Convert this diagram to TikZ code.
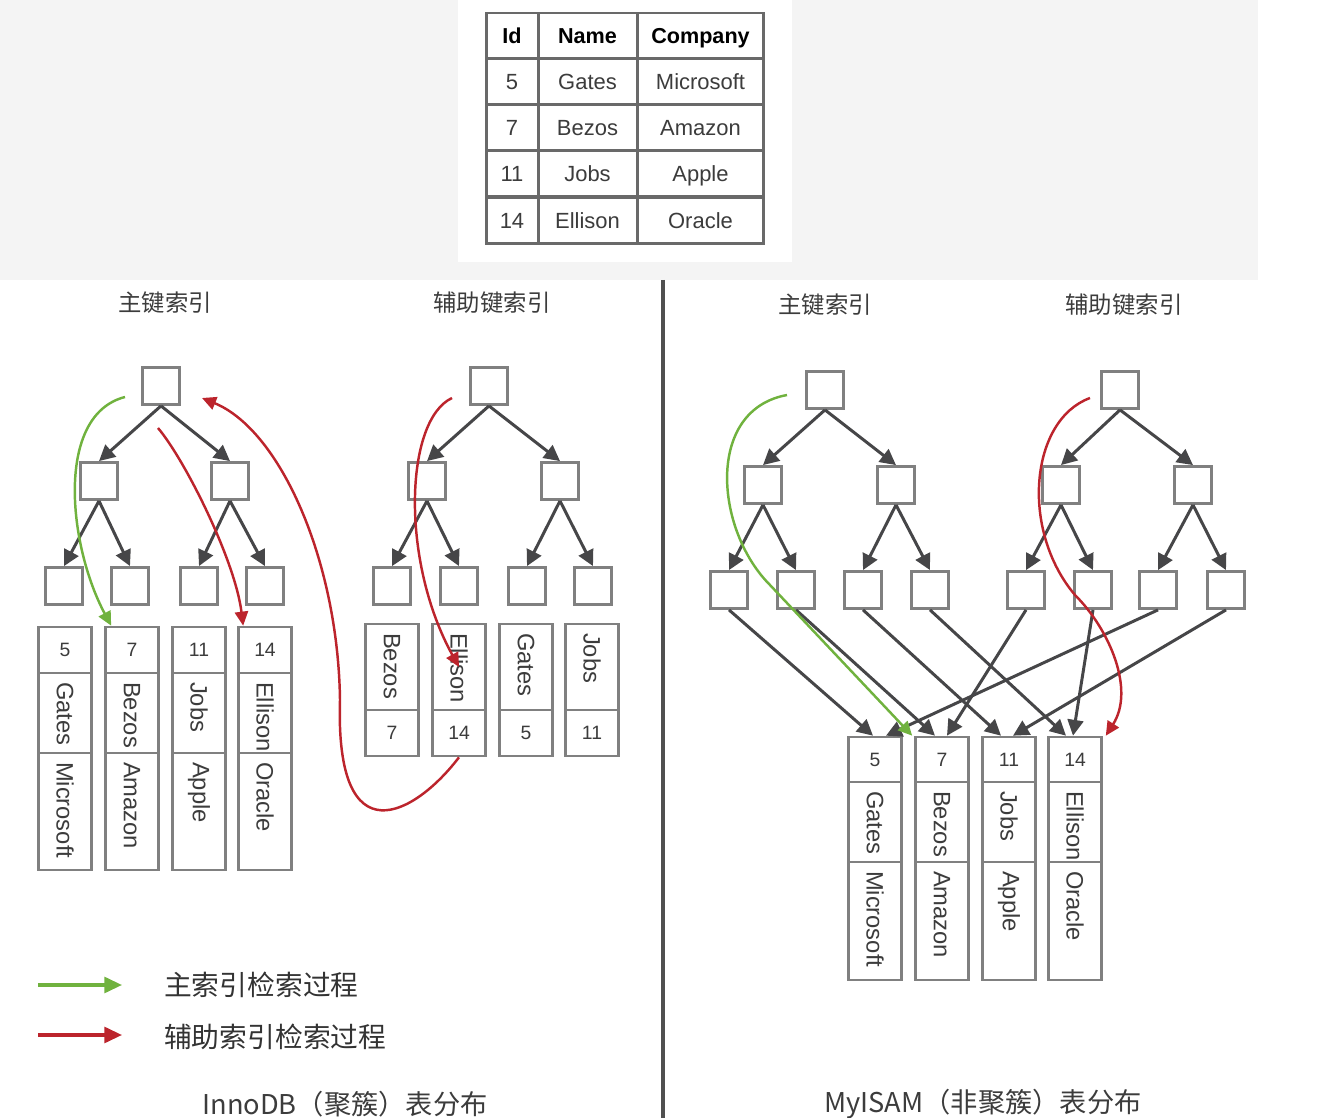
\documentclass[tikz,border=0pt]{standalone}
\usepackage{fontspec}
\setmainfont{Liberation Sans}
\newfontfamily\cjk{Noto Sans CJK SC}
\usetikzlibrary{arrows.meta,shadows}
\definecolor{linegray}{RGB}{70,70,72}
\definecolor{boxgray}{RGB}{128,128,128}
\definecolor{tabgray}{RGB}{105,105,105}
\definecolor{txtgray}{RGB}{60,60,60}
\definecolor{greenarr}{RGB}{112,178,62}
\definecolor{redarr}{RGB}{188,36,44}
\definecolor{topgray}{RGB}{244,244,244}
\definecolor{divgray}{RGB}{80,80,80}
\tikzstyle{box} = [draw=boxgray, line width=1.6pt, fill=white, minimum size=0.74cm, inner sep=0pt,
  drop shadow={shadow xshift=0.6pt, shadow yshift=-0.6pt, opacity=0.25}]
\tikzstyle{link} = [draw=linegray, line width=1.7pt, -{Triangle[length=9pt,width=9pt]}]
\tikzstyle{greenline} = [draw=greenarr, line width=1.4pt, -{Triangle[length=8pt,width=7.5pt]}]
\tikzstyle{redline} = [draw=redarr, line width=1.4pt, -{Triangle[length=8pt,width=7.5pt]}]
\tikzstyle{cell} = [draw=boxgray, line width=1.5pt, fill=white, inner sep=0pt, text=txtgray]
\tikzstyle{idcell} = [cell, minimum width=1.06cm, minimum height=0.92cm, font=\fontsize{11}{13}\selectfont]
\tikzstyle{namecell} = [cell, rotate=-90, minimum height=1.06cm, inner xsep=0.18cm, align=left,
  font=\fontsize{13.5}{15}\selectfont]
\tikzstyle{tab} = [draw=tabgray, line width=1.7pt, fill=white, minimum height=0.92cm, inner sep=0pt,
  text height=9pt, text depth=0pt, font=\fontsize{12.5}{14}\selectfont, text=txtgray]
\tikzstyle{head} = [tab, text=black, font=\bfseries\fontsize{12.3}{14}\selectfont]
\tikzstyle{title} = [text=txtgray, font=\cjk\fontsize{13.3}{15}\selectfont]
\tikzstyle{legend} = [anchor=west, text=black!80, font=\cjk\fontsize{15.8}{18}\selectfont]

\begin{document}
\begin{tikzpicture}[x=0.02cm, y=-0.02cm]
  \useasboundingbox (0,0) rectangle (1320,1118);
  % background and divider
  \fill[topgray] (0,0) rectangle (1258,280);
  \fill[white] (458,0) rectangle (792,262);
  \draw[divgray, line width=2.8pt] (663,280) -- (663,1118);

  % the table
  \node[head, minimum width=1.04cm] (thid) at (512,36) {Id};
  \node[head, minimum width=1.98cm] (thnm) at (587.5,36) {Name};
  \node[head, minimum width=2.54cm] (thco) at (700.5,36) {Company};
  \foreach \r/\y/\a/\b/\c in {1/82/5/Gates/Microsoft, 2/128/7/Bezos/Amazon,
                              3/174/11/Jobs/Apple, 4/220.5/14/Ellison/Oracle} {
    \node[tab, minimum width=1.04cm] (tid\r) at (512,\y) {\a};
    \node[tab, minimum width=1.98cm] (tnm\r) at (587.5,\y) {\b};
    \node[tab, minimum width=2.54cm] (tco\r) at (700.5,\y) {\c};
  }

  % titles
  \node[title] (tip) at (165,303) {主键索引};
  \node[title] (tis) at (492,303) {辅助键索引};
  \node[title] (tmp) at (825,305) {主键索引};
  \node[title] (tms) at (1124,305) {辅助键索引};

  % the four trees
  \foreach \t/\xa/\xb/\xc/\xd/\xe/\xf/\xg/\yo in {ip/161/99/230/64/130/199/265/0,
      is/489/427/560/392/459/527/593/0, mp/825/763/896/729/796/863/930/4,
      ms/1120/1061/1193/1026/1093/1158/1226/4} {
    \node[box] (\t0) at (\xa,386+\yo) {};
    \node[box] (\t1) at (\xb,481+\yo) {};
    \node[box] (\t2) at (\xc,481+\yo) {};
    \node[box] (\t3) at (\xd,586+\yo) {};
    \node[box] (\t4) at (\xe,586+\yo) {};
    \node[box] (\t5) at (\xf,586+\yo) {};
    \node[box] (\t6) at (\xg,586+\yo) {};
    \draw[link] (\t0.south) -- (\t1.north);
    \draw[link] (\t0.south) -- (\t2.north);
    \draw[link] (\t1.south) -- (\t3.north);
    \draw[link] (\t1.south) -- (\t4.north);
    \draw[link] (\t2.south) -- (\t5.north);
    \draw[link] (\t2.south) -- (\t6.north);
  }

  % InnoDB rows under the primary index
  \foreach \i/\x/\id/\nm/\co in {1/65/5/Gates/Microsoft, 2/132/7/Bezos/Amazon,
                                 3/199/11/Jobs/Apple, 4/265/14/Ellison/Oracle} {
    \node[idcell] (pid\i) at (\x,650) {\id};
    \node[namecell, minimum width=1.6cm, text width=1.24cm] (pnm\i) at (\x,713) {\nm};
    \node[namecell, minimum width=2.34cm, text width=1.98cm] (pco\i) at (\x,811.5) {\co};
  }
  % InnoDB secondary leaves
  \foreach \i/\x/\id/\nm in {1/392/7/Bezos, 2/459/14/Ellison, 3/526/5/Gates, 4/592/11/Jobs} {
    \node[namecell, minimum width=1.72cm, text width=1.36cm] (snm\i) at (\x,667) {\nm};
    \node[idcell] (sid\i) at (\x,733) {\id};
  }
  % MyISAM rows
  \foreach \i/\x/\id/\nm/\co in {1/875/5/Gates/Microsoft, 2/942/7/Bezos/Amazon,
                                 3/1009/11/Jobs/Apple, 4/1075/14/Ellison/Oracle} {
    \node[idcell, minimum height=0.9cm] (mid\i) at (\x,759.5) {\id};
    \node[namecell, minimum width=1.6cm, text width=1.24cm] (mnm\i) at (\x,822) {\nm};
    \node[namecell, minimum width=2.36cm, text width=2cm] (mco\i) at (\x,921) {\co};
  }
  \draw[link] (mp3.south) -- ([xshift=-0.04cm]mid1.north);
  \draw[link] (ms5.south) -- ([xshift=0.22cm]mid1.north);
  \draw[link] (mp4.south) -- ([xshift=-0.14cm]mid2.north);
  \draw[link] (ms3.south) -- ([xshift=0.1cm]mid2.north);
  \draw[link] (mp5.south) -- ([xshift=-0.16cm]mid3.north);
  \draw[link] (ms6.south) -- ([xshift=0.08cm]mid3.north);
  \draw[link] (mp6.south) -- ([xshift=-0.18cm]mid4.north);
  \draw[link] (ms4.south) -- ([xshift=-0.04cm]mid4.north);

  % search paths
  \coordinate (gL) at (125,397);
  \coordinate (rL) at (158,428);
  \coordinate (rS) at (452,398);
  \coordinate (rBig) at (202,398);
  \coordinate (gR) at (787,395);
  \coordinate (rR) at (1090,398);
  \draw[greenline] (gL) .. controls (55,415) and (68,545) .. ([xshift=0.14cm]pid2.north west);
  \draw[redline] (rL) .. controls (185,460) and (235,560) .. ([xshift=0.12cm]pid4.north west);
  \draw[redline] (rS) .. controls (405,420) and (400,560) .. (snm2.center);
  \draw[redline] (sid2.south) .. controls (415,815) and (335,860) .. (340,700)
                 .. controls (338,560) and (280,430) .. (rBig);
  \draw[greenline] (gR) .. controls (705,410) and (715,530) .. (770,585)
                   -- ([xshift=-0.04cm]mid2.north west);
  \draw[redline] (rR) .. controls (1030,420) and (1020,530) .. (1075,595)
                 .. controls (1110,630) and (1135,690) .. ([xshift=0.06cm]mid4.north east);

  % legend
  \coordinate (lgA) at (38,985);
  \coordinate (lgB) at (122,985);
  \coordinate (lgC) at (38,1035);
  \coordinate (lgD) at (122,1035);
  \draw[greenline, line width=1.8pt, -{Triangle[length=10pt,width=9pt]}] (lgA) -- (lgB);
  \draw[redline, line width=1.8pt, -{Triangle[length=10pt,width=9pt]}] (lgC) -- (lgD);
  \node[legend] (lg1) at (158,985) {主索引检索过程};
  \node[legend] (lg2) at (158,1037) {辅助索引检索过程};

  % captions
  \node[title, font=\cjk\fontsize{15.5}{18}\selectfont] (capl) at (345,1104) {InnoDB（聚簇）表分布};
  \node[title, font=\cjk\fontsize{15.5}{18}\selectfont] (capr) at (983,1104) {MyISAM（非聚簇）表分布};
\end{tikzpicture}
\end{document}
